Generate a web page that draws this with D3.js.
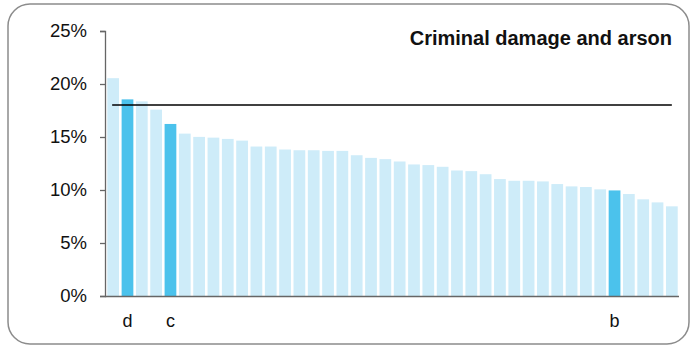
<!DOCTYPE html>
<html>
<head>
<meta charset="utf-8">
<script src="https://cdn.jsdelivr.net/npm/d3@7"></script>
<style>
  body { margin: 0; background: #fff; }
  svg { display: block; font-family: "Liberation Sans", Arial, sans-serif; }
</style>
</head>
<body>
<script>
// rates for each area, sorted high to low
const values = [20.55, 18.55, 18.36, 17.58, 16.23, 15.32, 15.01, 14.94, 14.82, 14.66,
  14.10, 14.10, 13.82, 13.75, 13.75, 13.69, 13.69, 13.28, 13.03, 12.91,
  12.69, 12.41, 12.35, 12.19, 11.84, 11.78, 11.49, 11.03, 10.87, 10.87,
  10.81, 10.56, 10.34, 10.28, 10.06, 9.96, 9.62, 9.12, 8.83, 8.46];
const labels = {1: "d", 4: "c", 35: "b"};
const average = 18.02;
const yTicks = [0, 5, 10, 15, 20, 25];
const title = "Criminal damage and arson";

const w = 697, h = 347;
const mLeft = 105, mRight = 679, mTop = 31, mBottom = 296;

const svg = d3.select("body").append("svg")
  .attr("width", w)
  .attr("height", h);

// frame
svg.append("rect")
  .attr("x", 8).attr("y", 4)
  .attr("width", 681).attr("height", 340)
  .attr("rx", 22)
  .attr("fill", "none")
  .attr("stroke", "#8c8c8c")
  .attr("stroke-width", 1.5);

const x = d3.scaleBand()
  .domain(d3.range(values.length))
  .range([mLeft + 1, mRight])
  .paddingInner(0.18)
  .paddingOuter(0.09);

const y = d3.scaleLinear()
  .domain([0, 25])
  .range([mBottom, mTop]);

svg.selectAll("rect.bar")
  .data(values)
  .enter()
  .append("rect")
  .attr("class", "bar")
  .attr("x", (d, i) => x(i))
  .attr("y", d => y(d))
  .attr("width", x.bandwidth())
  .attr("height", d => y(0) - y(d))
  .attr("fill", (d, i) => labels[i] ? "#4bc2ec" : "#ceecf9");

// average line
svg.append("line")
  .attr("x1", x(0) + x.bandwidth() / 2 - 1)
  .attr("x2", x(values.length - 1) + x.bandwidth() / 2)
  .attr("y1", y(average))
  .attr("y2", y(average))
  .attr("stroke", "#000")
  .attr("stroke-width", 1.6);

// y axis
const yAxis = svg.append("g")
  .attr("transform", `translate(${mLeft},0)`)
  .call(d3.axisLeft(y).tickValues(yTicks).tickSize(5).tickPadding(13).tickFormat(d => d + "%"));
yAxis.select(".domain").attr("stroke", "#666").attr("stroke-width", 1.3);
yAxis.selectAll(".tick line").attr("stroke", "#666").attr("stroke-width", 1.3);
yAxis.selectAll(".tick text")
  .attr("font-size", 18.5)
  .attr("font-family", "Liberation Sans, Arial, sans-serif")
  .attr("fill", "#111");

// x axis line
svg.append("line")
  .attr("x1", mLeft).attr("x2", mRight)
  .attr("y1", mBottom + 0.5).attr("y2", mBottom + 0.5)
  .attr("stroke", "#666")
  .attr("stroke-width", 1.5);

// category letters
svg.selectAll("text.lab")
  .data(Object.entries(labels))
  .enter()
  .append("text")
  .attr("class", "lab")
  .attr("x", d => x(+d[0]) + x.bandwidth() / 2)
  .attr("y", 327)
  .attr("text-anchor", "middle")
  .attr("font-size", 18)
  .attr("fill", "#111")
  .text(d => d[1]);

svg.append("text")
  .attr("x", 672)
  .attr("y", 45)
  .attr("text-anchor", "end")
  .attr("font-size", 20)
  .attr("font-weight", "bold")
  .attr("fill", "#111")
  .text(title);
</script>
</body>
</html>
